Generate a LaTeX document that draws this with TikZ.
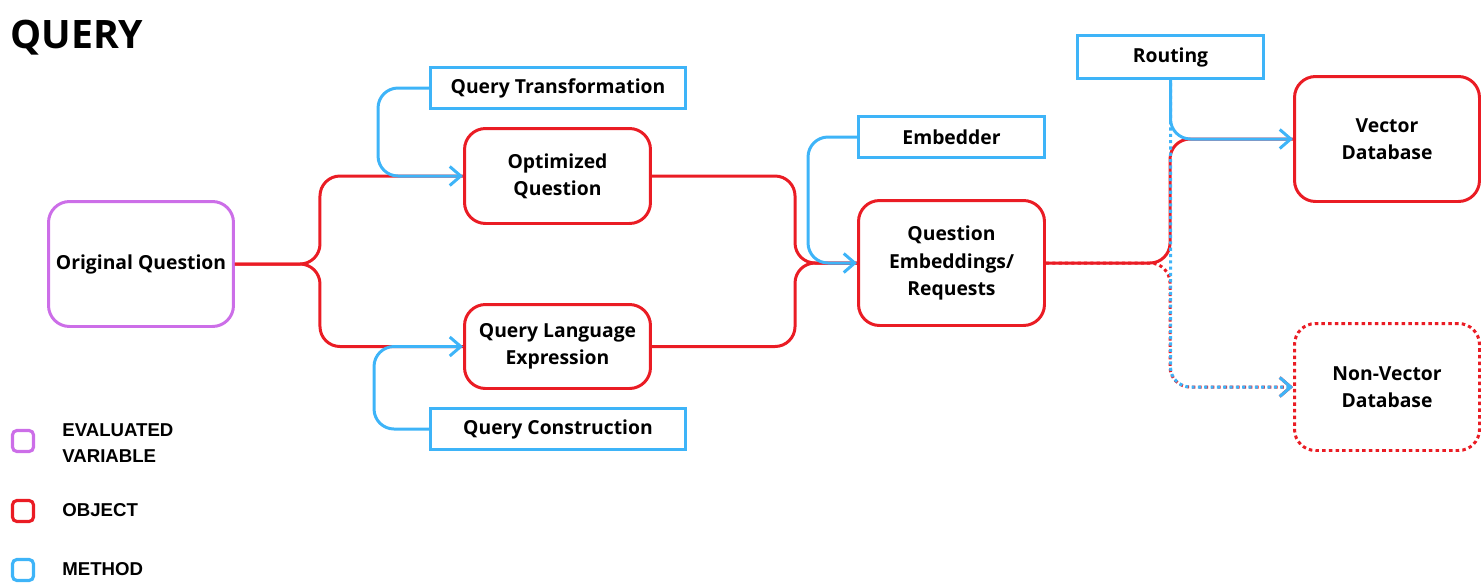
\documentclass[tikz,border=0pt]{standalone}
\usepackage{fontspec}
\setmainfont{Open Sans}
\newfontfamily\keyfont{Liberation Sans}
\usepackage{tikz}
\usetikzlibrary{arrows.meta, positioning, calc}
\definecolor{objred}{RGB}{234,28,36}
\definecolor{mtdblue}{RGB}{62,180,248}
\definecolor{varpurple}{RGB}{204,110,232}

\begin{document}
\begin{tikzpicture}[
    x=0.02cm, y=-0.02cm,
    txt/.style={font=\bfseries\fontsize{11}{15.5}\selectfont, align=center, inner sep=0pt},
    box/.style={txt, rounded corners=0.42cm, line width=1.7pt},
    var/.style={box, draw=varpurple, minimum width=3.70cm, minimum height=2.50cm},
    obj/.style={box, draw=objred, minimum width=3.72cm},
    mtd/.style={txt, draw=mtdblue, line width=1.7pt, minimum width=3.72cm, minimum height=0.82cm},
    key/.style={rounded corners=2.5pt, line width=1.8pt, minimum size=0.42cm, inner sep=0pt},
    keytext/.style={anchor=west, align=left, inner sep=0pt, font=\keyfont\bfseries\fontsize{10.6}{14.8}\selectfont},
    objline/.style={draw=objred, line width=1.7pt, rounded corners=0.4cm},
    mtdline/.style={draw=mtdblue, line width=1.7pt, rounded corners=0.4cm, -{Straight Barb[length=0.22cm, width=0.38cm]}},
    objdot/.style={objline, dash pattern=on 1.8pt off 1.8pt, -{Straight Barb[length=0.22cm, width=0.38cm]}},
    mtddot/.style={mtdline, dash pattern=on 1.8pt off 1.8pt, dash phase=1.8pt}
]
\useasboundingbox (0,0) rectangle (1484,586);

\node[anchor=base west, font=\bfseries\fontsize{22.3}{26}\selectfont, inner sep=0pt] (title) at (10,48) {QUERY};

\node[var] (orig) at (141,264) {Original Question};
\node[obj, minimum height=1.90cm] (opt) at (557.5,176) {Optimized\\Question};
\node[obj, minimum height=1.68cm] (qle) at (557.5,346.5) {Query Language\\Expression};
\node[mtd, minimum width=5.10cm] (qt) at (558,88) {Query Transformation};
\node[mtd, minimum width=5.10cm] (qc) at (558,429) {Query Construction};
\node[mtd] (emb) at (951.5,137) {Embedder};
\node[obj, minimum height=2.50cm] (qe) at (951.5,263) {Question\\Embeddings/\\Requests};
\node[mtd, minimum height=0.86cm] (rout) at (1170.5,57) {Routing};
\node[obj, minimum width=3.70cm, minimum height=2.50cm] (vec) at (1387,139) {Vector\\Database};
\node[obj, minimum width=3.70cm, minimum height=2.54cm, dash pattern=on 2pt off 1.8pt] (nvec) at (1387,387) {Non-Vector\\Database};

\coordinate (fork) at ($(orig.east)+(85,0)$);
\draw[objline] (orig.east) -- (fork) |- (opt.west);
\draw[objline] (orig.east) -- (fork) |- (qle.west);
\draw[mtdline] (qt.west) -| ($(opt.west)+(-85,0)$) -- (opt.west);
\draw[mtdline] (qc.west) -| ($(qle.west)+(-89,0)$) -- (qle.west);

\draw[objline] (opt.east) -| ($(qe.west)+(-62,0)$) -- (qe.west);
\draw[objline] (qle.east) -| ($(qe.west)+(-62,0)$) -- (qe.west);
\draw[mtdline] (emb.west) -| ($(qe.west)+(-49,0)$) -- (qe.west);

\draw[objline] (qe.east) -| ($(vec.west)+(-123,0)$) -- (vec.west);
\draw[mtdline] (rout.south) |- (vec.west);
\draw[objdot] (qe.east) -| ($(nvec.west)+(-123,0)$) -- (nvec.west);
\draw[mtddot] (rout.south) |- (nvec.west);

\node[key, draw=varpurple] (keyvar) at (23,441) {};
\node[keytext] (keyvartext) at (62,443) {EVALUATED\\VARIABLE};
\node[key, draw=objred] (keyobj) at (23,511) {};
\node[keytext] (keyobjtext) at (62,510) {OBJECT};
\node[key, draw=mtdblue] (keymtd) at (23,570) {};
\node[keytext] (keymtdtext) at (62,569) {METHOD};
\end{tikzpicture}
\end{document}
